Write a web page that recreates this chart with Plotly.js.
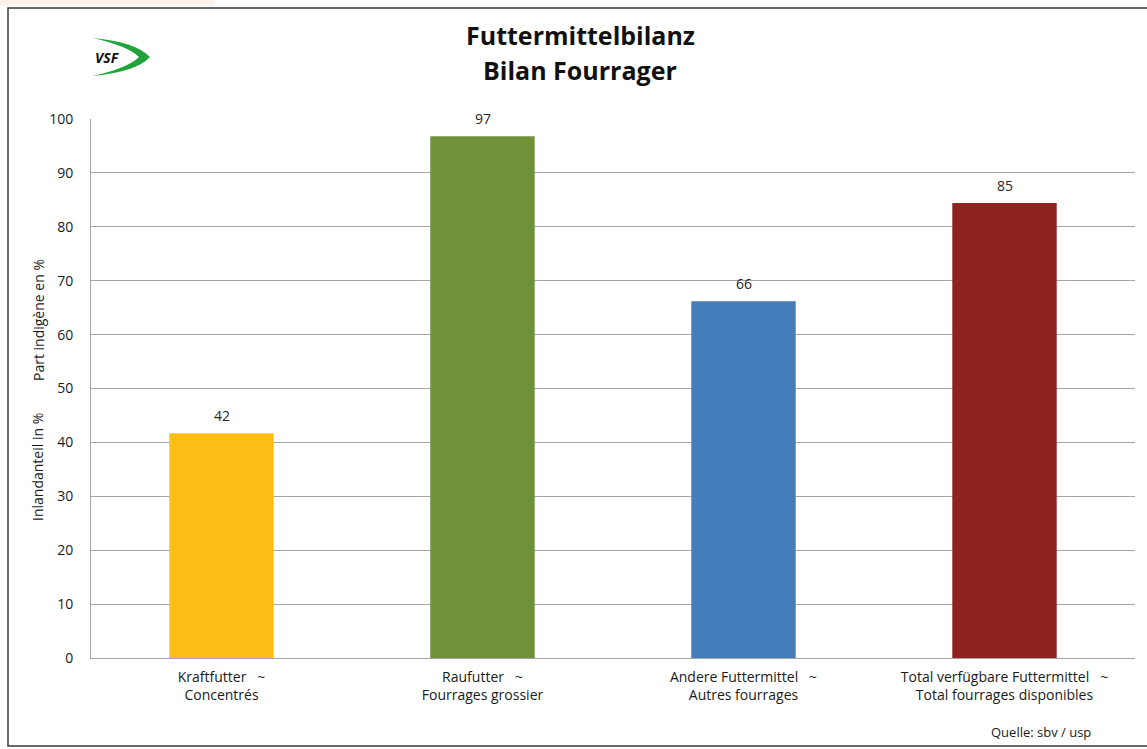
<!DOCTYPE html>
<html>
<head>
<meta charset="utf-8">
<script src="https://cdn.plot.ly/plotly-3.0.1.min.js"></script>
<style>html,body{margin:0;padding:0;background:#fff}#chart{width:1147px;height:749px}</style>
</head>
<body>
<div id="chart"></div>
<script>
const categories = [
  "Kraftfutter   ~<br>Concentrés",
  "Raufutter   ~<br>Fourrages grossier",
  "Andere Futtermittel   ~<br>Autres fourrages",
  "Total verfügbare Futtermittel   ~<br>Total fourrages disponibles"
];
const values = [41.7, 96.8, 66.2, 84.4];
const labels = ["42", "97", "66", "85"];
const colors = ["#FCBE14", "#71903A", "#457DBB", "#8E2320"];
const yTicks = [0, 10, 20, 30, 40, 50, 60, 70, 80, 90, 100];
const titleLines = ["Futtermittelbilanz", "Bilan Fourrager"];
const yTitleParts = ["Inlandanteil in %", "Part indigène en %"];
const source = "Quelle: sbv / usp";

const W = 1147, H = 749, L = 91, R = 12, T = 119, B = 91;
const pw = W - L - R, ph = H - T - B;
const px = x => (x - L) / pw;
const py = y => (H - B - y) / ph;

const base = "Open Sans, sans-serif";

const trace = {
  type: "bar",
  x: categories,
  y: values,
  marker: { color: colors },
  hoverinfo: "skip"
};

const annotations = categories.map((c, i) => ({
  x: c, y: values[i], xref: "x", yref: "y",
  text: labels[i], showarrow: false, yanchor: "bottom", yshift: 6,
  font: { family: base, size: 14, color: "#262626" }
}));

annotations.push({
  xref: "paper", yref: "paper", x: px(1093), y: py(732), xanchor: "right", yanchor: "middle",
  text: source, showarrow: false,
  font: { family: base, size: 13, color: "#1a1a1a" }
});
annotations.push({
  xref: "paper", yref: "paper", x: px(107), y: py(57), xanchor: "center", yanchor: "middle",
  text: "<b><i>VSF</i></b>", showarrow: false,
  font: { family: base, size: 14, color: "#111" }
});
[[titleLines[0], 35], [titleLines[1], 70]].forEach(([t, y]) => annotations.push({
  xref: "paper", yref: "paper", x: px(580), y: py(y), xanchor: "center", yanchor: "middle",
  text: "<b>" + t + "</b>", showarrow: false,
  font: { family: base, size: 25, color: "#111" }
}));
[[yTitleParts[0], 467], [yTitleParts[1], 320]].forEach(([t, y]) => annotations.push({
  xref: "paper", yref: "paper", x: px(38), y: py(y), xanchor: "center", yanchor: "middle",
  text: t, showarrow: false, textangle: -90,
  font: { family: base, size: 14, color: "#1a1a1a" }
}));

const f = v => v.toFixed(4);
const swoosh = "M " + f(px(93)) + "," + f(py(38)) +
  " Q " + f(px(136)) + "," + f(py(42)) + " " + f(px(150)) + "," + f(py(57)) +
  " Q " + f(px(136)) + "," + f(py(72)) + " " + f(px(93)) + "," + f(py(76)) +
  " Q " + f(px(128)) + "," + f(py(68)) + " " + f(px(139)) + "," + f(py(57)) +
  " Q " + f(px(128)) + "," + f(py(46)) + " " + f(px(93)) + "," + f(py(38)) + " Z";

const shapes = [
  { type: "rect", xref: "paper", yref: "paper", x0: px(8), x1: px(1160), y0: py(746), y1: py(8),
    line: { color: "#3a3a3a", width: 1.5 }, fillcolor: "rgba(0,0,0,0)", layer: "below" },
  { type: "rect", xref: "paper", yref: "paper", x0: px(0), x1: px(215), y0: py(5), y1: py(0),
    line: { width: 0 }, fillcolor: "#FDF3EA", layer: "below" },
  { type: "path", xref: "paper", yref: "paper", path: swoosh,
    fillcolor: "#1FA33A", line: { width: 0 } }
];

const layout = {
  width: W, height: H,
  margin: { l: L, r: R, t: T, b: B, pad: 0 },
  paper_bgcolor: "#ffffff", plot_bgcolor: "#ffffff",
  showlegend: false,
  bargap: 0.6,
  xaxis: {
    type: "category",
    showgrid: false, showline: true, linecolor: "#a6a6a6", linewidth: 1,
    ticks: "", ticklabelstandoff: 6,
    tickfont: { family: base, size: 14, color: "#1a1a1a" },
    fixedrange: true
  },
  yaxis: {
    range: [0, 100], tickvals: yTicks, ticktext: yTicks.map(String),
    showgrid: true, gridcolor: "#a6a6a6", gridwidth: 1,
    showline: true, linecolor: "#a6a6a6", linewidth: 1,
    zeroline: false, ticks: "", ticklen: 0,
    ticklabelstandoff: 14,
    tickfont: { family: base, size: 14, color: "#1a1a1a" },
    fixedrange: true
  },
  annotations: annotations,
  shapes: shapes
};

Plotly.newPlot("chart", [trace], layout, { displayModeBar: false, staticPlot: true });
</script>
</body>
</html>
